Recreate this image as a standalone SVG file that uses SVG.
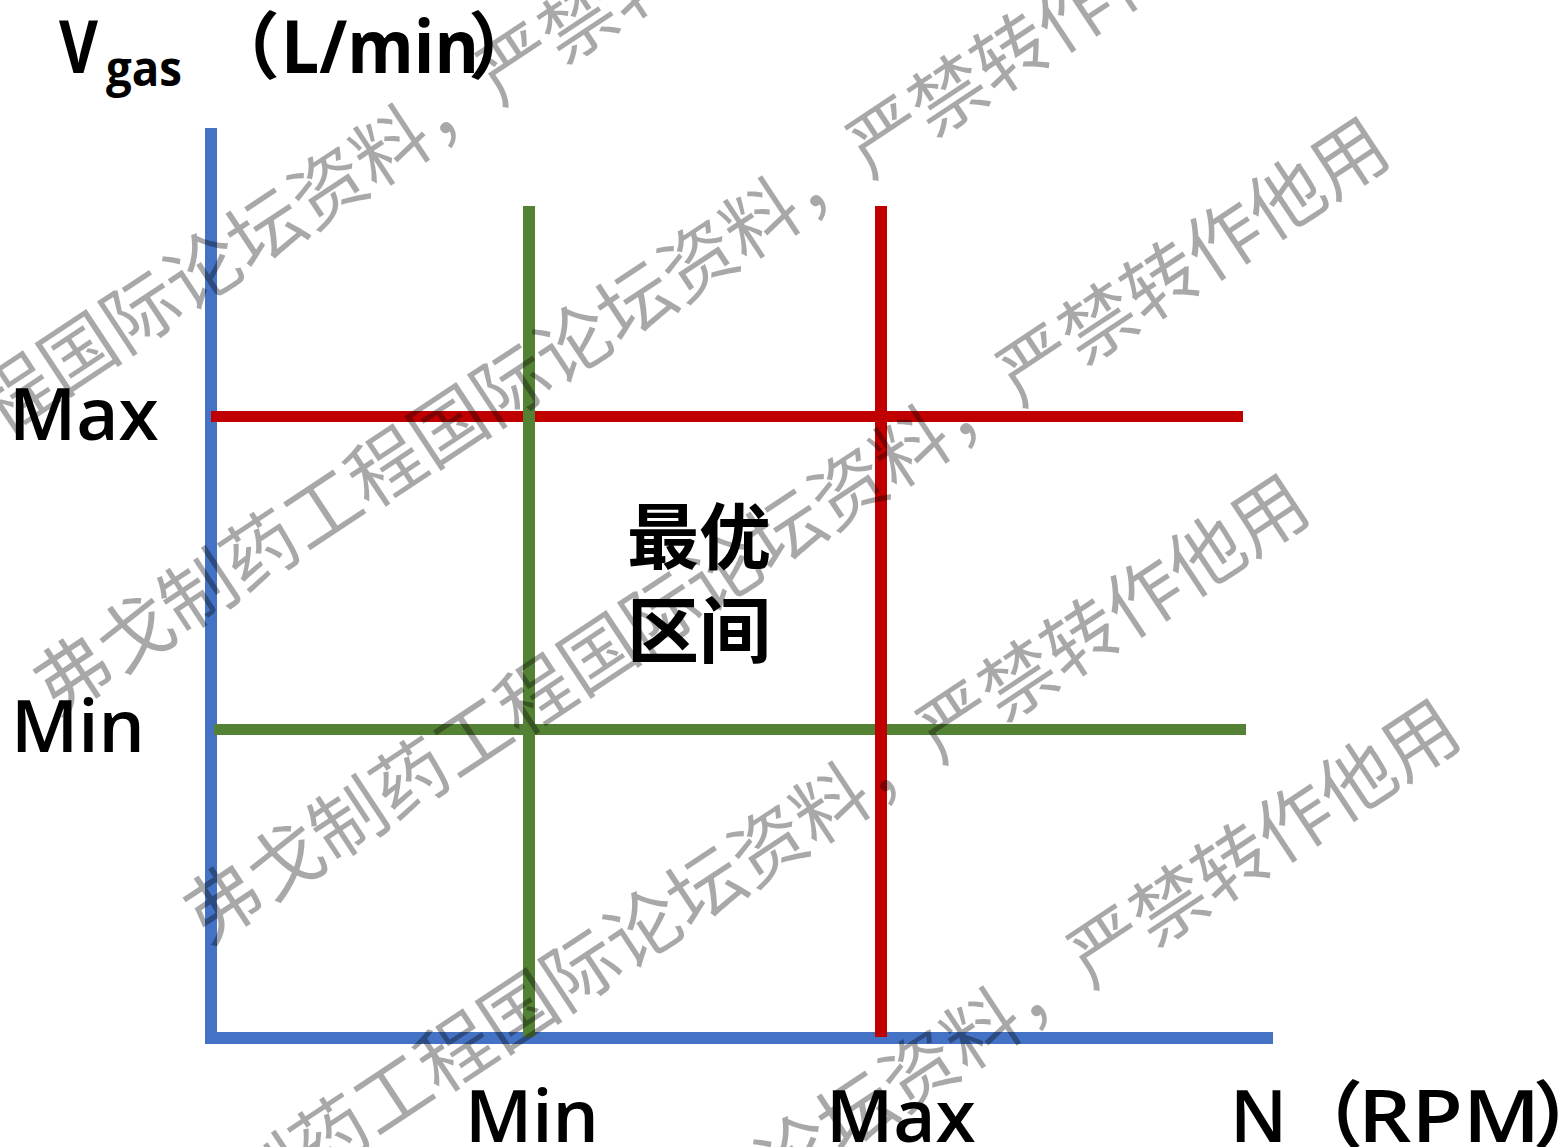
<svg xmlns="http://www.w3.org/2000/svg" width="1568" height="1147" viewBox="0 0 1568 1147">
<style>
.lbl{font-family:"Open Sans","Noto Sans CJK SC",sans-serif;fill:#000;font-size:73px}
.sb{font-weight:600}
.bd{font-weight:700}
.cjk{font-family:"Noto Sans CJK SC",sans-serif;font-weight:700;font-size:72px;fill:#000}
.wm{font-family:"Noto Sans CJK SC",sans-serif;font-size:75px;fill:#000;fill-opacity:0.34}
.ln{fill:none;stroke-linecap:butt}
</style>
<rect width="1568" height="1147" fill="#fff"/>
<g id="connectors">
  <polyline id="axes" class="ln" points="211,128 211,1038 1273,1038" stroke="#4472C4" stroke-width="12" stroke-linejoin="miter"/>
  <line id="vgas-max" class="ln" x1="211" y1="416.5" x2="1243" y2="416.5" stroke="#C00000" stroke-width="11"/>
  <line id="vgas-min" class="ln" x1="214" y1="729.5" x2="1246" y2="729.5" stroke="#548235" stroke-width="11"/>
  <line id="n-min" class="ln" x1="529" y1="206" x2="529" y2="1037" stroke="#548235" stroke-width="12"/>
  <line id="n-max" class="ln" x1="881" y1="206" x2="881" y2="1037" stroke="#C00000" stroke-width="12"/>
</g>
<g id="y-title" class="lbl bd">
  <text x="59" y="73" textLength="39" lengthAdjust="spacingAndGlyphs">V</text>
  <text x="106" y="86" font-size="48" textLength="76" lengthAdjust="spacingAndGlyphs">gas</text>
  <text x="207" y="73">（</text>
  <text x="281" y="73" textLength="198" lengthAdjust="spacingAndGlyphs">L/min</text>
  <text x="468" y="73">）</text>
</g>
<g id="y-max"><text class="lbl sb" x="9" y="440">Max</text></g>
<g id="y-min"><text class="lbl sb" x="11" y="752">Min</text></g>
<g id="x-min"><text class="lbl sb" x="465" y="1142">Min</text></g>
<g id="x-max"><text class="lbl sb" x="826" y="1142">Max</text></g>
<g id="x-title" class="lbl sb">
  <text x="1230" y="1142">N</text>
  <text x="1290" y="1142">（</text>
  <text x="1358" y="1142" textLength="182" lengthAdjust="spacingAndGlyphs">RPM</text>
  <text x="1533" y="1142">）</text>
</g>
<g id="optimum"><text class="cjk" x="627" y="563">最优</text><text class="cjk" x="627" y="657">区间</text></g>
<g id="watermark" class="wm" dominant-baseline="central">
  <text transform="translate(-300,597) rotate(-33.5)" x="-37.5" y="0">弗戈制药工程国际论坛资料，严禁转作他用</text>
  <text transform="translate(70,670) rotate(-33.5)" x="-37.5" y="0">弗戈制药工程国际论坛资料，严禁转作他用</text>
  <text transform="translate(220,898) rotate(-33.5)" x="-37.5" y="0">弗戈制药工程国际论坛资料，严禁转作他用</text>
  <text transform="translate(140,1255) rotate(-33.5)" x="-37.5" y="0">弗戈制药工程国际论坛资料，严禁转作他用</text>
  <text transform="translate(291,1480) rotate(-33.5)" x="-37.5" y="0">弗戈制药工程国际论坛资料，严禁转作他用</text>
</g>
</svg>
